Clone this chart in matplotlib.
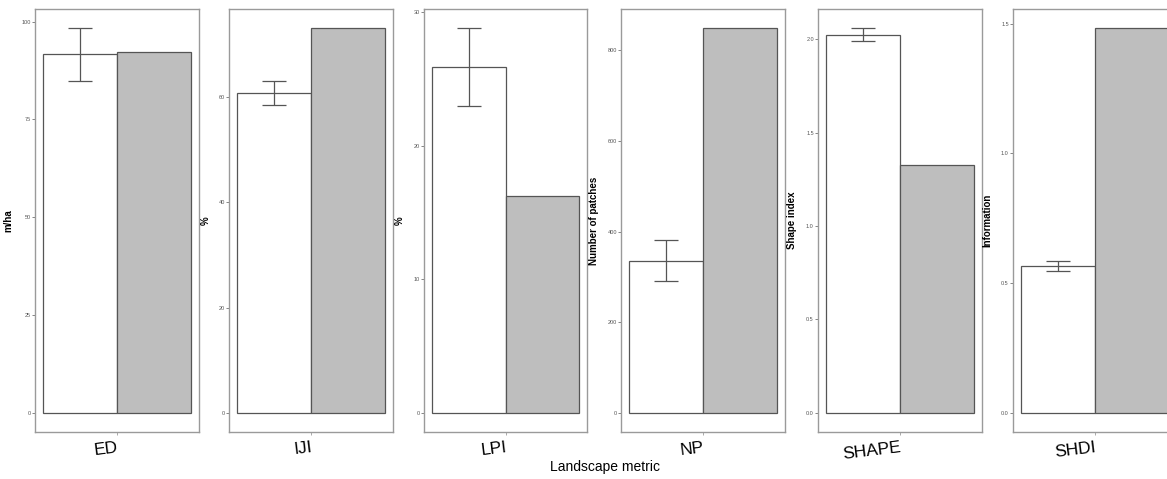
import matplotlib
matplotlib.use("Agg")
import matplotlib.pyplot as plt
import numpy as np

plt.rcParams['font.family'] = ['Liberation Sans', 'DejaVu Sans']

metrics = ["ED", "IJI", "LPI", "NP", "SHAPE", "SHDI"]
ylabels = ["m/ha", "%", "%", "Number of patches", "Shape index", "Information"]
white_vals = [91.6, 60.8, 25.9, 336, 2.025, 0.567]
white_err = [6.7, 2.3, 2.9, 46, 0.034, 0.020]
grey_vals = [92.3, 73.1, 16.2, 849, 1.328, 1.483]
yticks = [[0, 25, 50, 75, 100],
          [0, 20, 40, 60],
          [0, 10, 20, 30],
          [0, 200, 400, 600, 800],
          [0.0, 0.5, 1.0, 1.5, 2.0],
          [0.0, 0.5, 1.0, 1.5]]
ytick_fmt = ["{:.0f}", "{:.0f}", "{:.0f}", "{:.0f}", "{:.1f}", "{:.1f}"]

W, H = 1167, 479
fig = plt.figure(figsize=(W / 100, H / 100), dpi=100)

panel_px = [(35, 199), (229, 393), (424, 587), (621, 785), (818, 982), (1013, 1177)]
ylab_off = [22, 18, 19, 22, 21, 21]
top_px, bot_px = 9, 432

border_col = "#9a9a9a"
edge_col = "#555555"

for i, m in enumerate(metrics):
    l, r = panel_px[i]
    ax = fig.add_axes([l / W, 1 - bot_px / H, (r - l) / W, (bot_px - top_px) / H])
    ax.bar([1 - 0.225], [white_vals[i]], width=0.45, color="white",
           edgecolor=edge_col, linewidth=0.9, zorder=2)
    ax.bar([1 + 0.225], [grey_vals[i]], width=0.45, color="#bebebe",
           edgecolor=edge_col, linewidth=0.9, zorder=2)
    ax.errorbar([1 - 0.225], [white_vals[i]], yerr=[white_err[i]], fmt="none",
                ecolor=edge_col, elinewidth=0.9, capsize=8.6, capthick=0.9, zorder=3)
    ymax = max(white_vals[i] + white_err[i], grey_vals[i])
    ax.set_ylim(-0.05 * ymax, 1.05 * ymax)
    ax.set_xlim(0.5, 1.5)
    ax.set_yticks(yticks[i])
    ax.set_yticklabels([ytick_fmt[i].format(v) for v in yticks[i]])
    ax.set_xticks([1])
    ax.set_xticklabels([m])
    for lab in ax.get_xticklabels():
        lab.set_rotation(7)
        lab.set_ha("right")
        lab.set_va("top")
        lab.set_rotation_mode("anchor")
        lab.set_fontsize(12.5)
        lab.set_color("black")
    ax.tick_params(axis="y", labelsize=4, colors="#555555", length=2, width=0.5, pad=1)
    ax.tick_params(axis="x", length=2, width=0.5, colors="#888888", pad=4, labelcolor="black")
    for s in ax.spines.values():
        s.set_color(border_col)
        s.set_linewidth(1.0)
    ax.set_ylabel(ylabels[i], fontsize=7, fontweight="bold")
    ax.yaxis.set_label_coords(-ylab_off[i] / (r - l), 0.5)

fig.text(605 / W, 1 - 467 / H, "Landscape metric", ha="center", va="center", fontsize=10)

fig.savefig("out.png", dpi=100)
